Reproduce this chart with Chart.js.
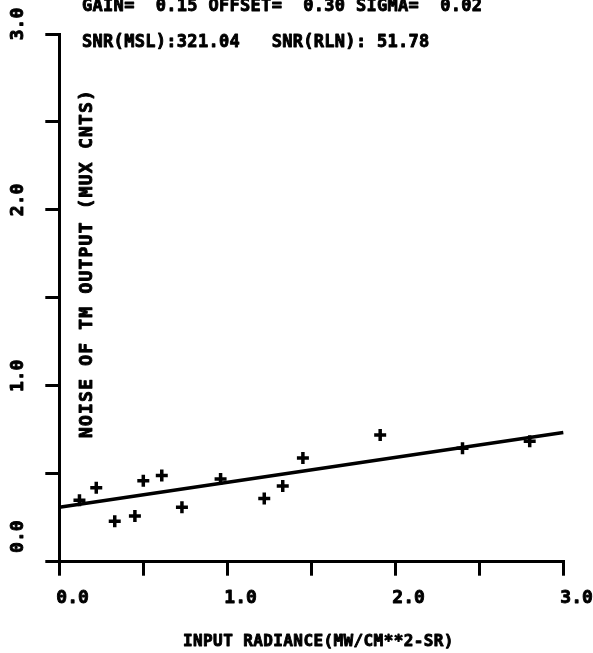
<!DOCTYPE html>
<html>
<head>
<meta charset="utf-8">
<script src="https://cdn.jsdelivr.net/npm/chart.js@4/dist/chart.umd.min.js"></script>
<style>
  body { margin: 0; background: #fff; }
  canvas { display: block; }
</style>
</head>
<body>
<canvas id="chart" width="593" height="653"></canvas>
<script>
// input radiance vs noise of TM output
const radiance = [0.12, 0.22, 0.33, 0.45, 0.50, 0.61, 0.73, 0.96, 1.22, 1.33, 1.45, 1.91, 2.40, 2.80];
const noise    = [0.35, 0.42, 0.23, 0.26, 0.46, 0.49, 0.31, 0.47, 0.36, 0.43, 0.59, 0.72, 0.645, 0.685];

// fitted line
const fitX = [0, 3];
const fitY = [0.31, 0.735];

const xTickValues = [0, 1, 2, 3];
const xTickLabels = ['0.0', '1.0', '2.0', '3.0'];
const yTickValues = [0, 1, 2, 3];
const yTickLabels = ['0.0', '1.0', '2.0', '3.0'];

const header1 = 'GAIN=  0.15 OFFSET=  0.30 SIGMA=  0.02';
const header2 = 'SNR(MSL):321.04   SNR(RLN): 51.78';
const xTitle = 'INPUT RADIANCE(MW/CM**2-SR)';
const yTitle = 'NOISE OF TM OUTPUT (MUX CNTS)';

const FONT = '"DejaVu Sans Mono", monospace';

// filled + stroked text so it looks as heavy as the plotter lettering
const heavyText = (ctx, s, x, y) => {
  ctx.fillText(s, x, y);
  ctx.strokeText(s, x, y);
};

const textPlugin = {
  id: 'plotText',
  afterDraw(chart) {
    const {ctx, scales: {x, y}} = chart;
    ctx.save();
    ctx.fillStyle = '#000';
    ctx.strokeStyle = '#000';
    ctx.lineWidth = 0.9;
    ctx.lineJoin = 'round';
    ctx.font = 'bold 18px ' + FONT;
    ctx.textAlign = 'left';
    ctx.textBaseline = 'top';
    xTickValues.forEach((v, i) => {
      heavyText(ctx, xTickLabels[i], x.getPixelForValue(v) - 3, y.bottom + 28);
    });
    yTickValues.forEach((v, i) => {
      ctx.save();
      ctx.translate(18, y.getPixelForValue(v) - (v === 0 ? 25 : 10));
      ctx.rotate(-Math.PI / 2);
      ctx.textAlign = 'center';
      ctx.textBaseline = 'middle';
      heavyText(ctx, yTickLabels[i], 0, 0);
      ctx.restore();
    });

    ctx.font = 'bold 17px ' + FONT;
    ctx.textBaseline = 'middle';
    ctx.letterSpacing = '0.3px';
    heavyText(ctx, header1, 82, 7);
    heavyText(ctx, header2, 82, 43);
    ctx.font = 'bold 16px ' + FONT;
    ctx.letterSpacing = '0.4px';
    heavyText(ctx, xTitle, 183, 642);

    ctx.translate(87, 438);
    ctx.rotate(-Math.PI / 2);
    ctx.font = 'bold 18px ' + FONT;
    ctx.letterSpacing = '1.2px';
    ctx.textAlign = 'left';
    heavyText(ctx, yTitle, 0, 0);
    ctx.restore();
  }
};

new Chart(document.getElementById('chart'), {
  type: 'scatter',
  data: {
    datasets: [{
      label: 'noise',
      data: radiance.map((r, i) => ({x: r, y: noise[i]})),
      pointStyle: 'cross',
      pointRadius: 6,
      pointBorderWidth: 3.5,
      borderColor: '#000',
      backgroundColor: '#000'
    }, {
      label: 'fit',
      type: 'line',
      data: fitX.map((v, i) => ({x: v, y: fitY[i]})),
      borderColor: '#000',
      borderWidth: 3.5,
      pointRadius: 0,
      fill: false,
      clip: false
    }]
  },
  options: {
    responsive: false,
    animation: false,
    layout: { padding: { left: 0, right: 29.7, top: 34, bottom: 0 } },
    plugins: { legend: { display: false }, tooltip: { enabled: false } },
    scales: {
      x: {
        type: 'linear', min: 0, max: 3,
        ticks: { stepSize: 0.5, display: false },
        grid: { drawOnChartArea: false, drawTicks: true, tickLength: 14, color: '#000', lineWidth: 3 },
        border: { color: '#000', width: 3 },
        afterFit: s => { s.height = 91.3; }
      },
      y: {
        type: 'linear', min: 0, max: 3,
        ticks: { stepSize: 0.5, display: false },
        grid: { drawOnChartArea: false, drawTicks: true, tickLength: 14, color: '#000', lineWidth: 3 },
        border: { color: '#000', width: 3 },
        afterFit: s => { s.width = 59.3; }
      }
    }
  },
  plugins: [textPlugin]
});
</script>
</body>
</html>
